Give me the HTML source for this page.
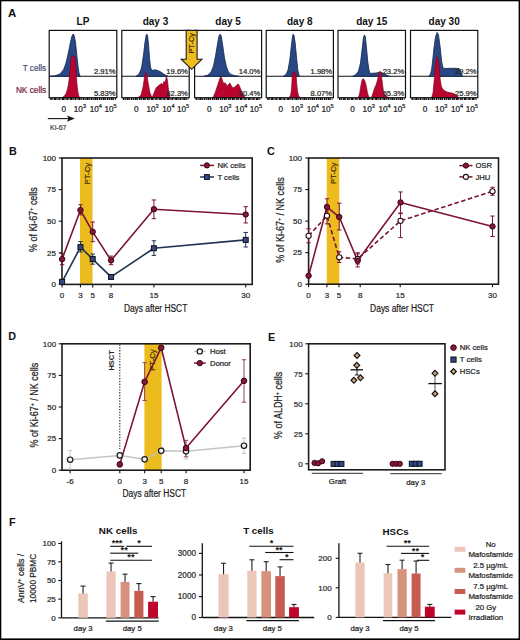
<!DOCTYPE html>
<html><head><meta charset="utf-8"><style>
html,body{margin:0;padding:0;background:#fff;}
body{width:520px;height:640px;overflow:hidden;}
svg{display:block;font-family:"Liberation Sans",sans-serif;}
</style></head><body>
<svg width="520" height="640" viewBox="0 0 520 640">
<rect x="0" y="0" width="520" height="640" fill="#fff"/>
<text x="8.00" y="17.30" font-size="11.5" text-anchor="start" font-weight="bold" fill="#111" >A</text>
<text x="46.2" y="70.5" font-size="8.9" text-anchor="end" fill="#454d72" textLength="23.5" lengthAdjust="spacingAndGlyphs" stroke="#454d72" stroke-width="0.22">T cells</text>
<text x="46.2" y="92.6" font-size="8.9" text-anchor="end" fill="#74233f" textLength="30.3" lengthAdjust="spacingAndGlyphs" stroke="#74233f" stroke-width="0.22">NK cells</text>
<text x="83.00" y="25.20" font-size="10" text-anchor="middle" font-weight="bold" fill="#111" >LP</text>
<line x1="49.20" y1="76.30" x2="116.80" y2="76.30" stroke="#111" stroke-width="1.1" />
<path d="M50.00,76.30 L55.00,75.80 L60.00,74.00 L63.60,69.50 L66.00,63.00 L68.50,52.00 L70.50,42.00 L72.00,36.00 L73.00,34.00 L74.00,35.00 L75.50,42.00 L76.80,55.00 L78.00,66.00 L79.00,73.00 L80.20,76.30 Z" fill="#274884" stroke="#16264a" stroke-width="0.8" stroke-linejoin="round" />
<path d="M61.50,97.70 L64.00,96.50 L66.00,93.50 L67.50,89.00 L68.60,83.00 L69.50,76.00 L70.30,66.00 L70.90,59.00 L71.60,56.20 L73.00,55.60 L74.40,56.20 L75.10,59.00 L75.80,66.00 L76.40,76.00 L77.00,84.00 L77.80,91.00 L78.80,96.00 L79.80,97.70 Z" fill="#b8042f" stroke="#7e0020" stroke-width="0.6" stroke-linejoin="round" />
<text x="115.50" y="73.90" font-size="7.6" text-anchor="end" fill="#262626"  stroke="#262626" stroke-width="0.22">2.91%</text>
<text x="115.50" y="95.90" font-size="7.6" text-anchor="end" fill="#262626"  stroke="#262626" stroke-width="0.22">5.83%</text>
<rect x="49.20" y="30.40" width="67.60" height="67.30" fill="none" stroke="#111" stroke-width="1.2" />
<line x1="50.20" y1="99.0" x2="115.80" y2="99.0" stroke="#111" stroke-width="2.0" stroke-dasharray="1.6 0.5 0.9 0.7 2.2 0.4 1.0 0.8"/>
<text x="63.80" y="111.60" font-size="8.2" text-anchor="middle" fill="#222"  stroke="#222" stroke-width="0.22">0</text>
<text x="73.80" y="111.6" font-size="8.2" fill="#222" stroke="#222" stroke-width="0.22">10<tspan font-size="5.6" dy="-3.3">3</tspan></text>
<text x="89.70" y="111.6" font-size="8.2" fill="#222" stroke="#222" stroke-width="0.22">10<tspan font-size="5.6" dy="-3.3">4</tspan></text>
<text x="104.40" y="111.6" font-size="8.2" fill="#222" stroke="#222" stroke-width="0.22">10<tspan font-size="5.6" dy="-3.3">5</tspan></text>
<text x="155.50" y="25.20" font-size="10" text-anchor="middle" font-weight="bold" fill="#111" >day 3</text>
<line x1="121.80" y1="76.30" x2="189.20" y2="76.30" stroke="#111" stroke-width="1.1" />
<path d="M136.00,76.30 L139.00,74.00 L141.50,68.00 L143.50,55.00 L145.00,42.00 L146.20,35.00 L146.70,34.20 L147.50,35.00 L148.50,44.00 L149.50,58.00 L150.50,67.00 L151.50,70.00 L153.00,70.30 L155.00,69.80 L157.00,70.30 L160.00,71.50 L163.00,73.50 L166.00,75.50 L168.00,76.30 Z" fill="#274884" stroke="#16264a" stroke-width="0.8" stroke-linejoin="round" />
<path d="M138.00,97.70 L141.00,95.00 L143.00,87.00 L144.50,77.00 L145.60,72.30 L146.80,74.00 L148.20,83.00 L149.80,92.00 L151.20,96.00 L152.50,96.50 L154.00,93.00 L156.00,88.00 L158.00,86.00 L160.00,84.50 L161.50,83.40 L162.50,85.00 L164.00,81.30 L165.00,83.00 L166.40,76.20 L167.50,80.00 L168.50,90.00 L169.90,97.70 Z" fill="#b8042f" stroke="#7e0020" stroke-width="0.6" stroke-linejoin="round" />
<text x="187.90" y="73.90" font-size="7.6" text-anchor="end" fill="#262626"  stroke="#262626" stroke-width="0.22">19.6%</text>
<text x="187.90" y="95.90" font-size="7.6" text-anchor="end" fill="#262626"  stroke="#262626" stroke-width="0.22">62.3%</text>
<rect x="121.80" y="30.40" width="67.40" height="67.30" fill="none" stroke="#111" stroke-width="1.2" />
<line x1="122.80" y1="99.0" x2="188.20" y2="99.0" stroke="#111" stroke-width="2.0" stroke-dasharray="1.6 0.5 0.9 0.7 2.2 0.4 1.0 0.8"/>
<text x="136.40" y="111.60" font-size="8.2" text-anchor="middle" fill="#222"  stroke="#222" stroke-width="0.22">0</text>
<text x="146.40" y="111.6" font-size="8.2" fill="#222" stroke="#222" stroke-width="0.22">10<tspan font-size="5.6" dy="-3.3">3</tspan></text>
<text x="162.30" y="111.6" font-size="8.2" fill="#222" stroke="#222" stroke-width="0.22">10<tspan font-size="5.6" dy="-3.3">4</tspan></text>
<text x="177.00" y="111.6" font-size="8.2" fill="#222" stroke="#222" stroke-width="0.22">10<tspan font-size="5.6" dy="-3.3">5</tspan></text>
<text x="228.10" y="25.20" font-size="10" text-anchor="middle" font-weight="bold" fill="#111" >day 5</text>
<line x1="194.60" y1="76.30" x2="261.60" y2="76.30" stroke="#111" stroke-width="1.1" />
<path d="M203.80,76.30 L208.00,75.00 L211.00,72.00 L213.50,66.00 L215.50,56.00 L217.50,44.00 L219.00,36.00 L220.10,34.20 L221.20,36.00 L222.80,46.00 L224.50,58.00 L226.50,67.00 L228.50,72.00 L231.00,74.50 L235.00,75.70 L239.00,76.30 Z" fill="#274884" stroke="#16264a" stroke-width="0.8" stroke-linejoin="round" />
<path d="M212.80,97.70 L215.00,93.00 L217.00,87.00 L219.00,81.00 L220.00,78.00 L221.00,76.50 L222.00,79.00 L223.00,82.00 L224.00,83.40 L225.20,82.70 L226.50,85.00 L227.50,86.00 L228.80,84.00 L230.00,83.10 L231.50,86.00 L233.00,88.00 L234.50,87.00 L236.00,86.00 L237.30,84.50 L238.40,84.00 L239.50,86.00 L241.00,90.00 L243.00,94.00 L245.30,97.70 Z" fill="#b8042f" stroke="#7e0020" stroke-width="0.6" stroke-linejoin="round" />
<text x="260.30" y="73.90" font-size="7.6" text-anchor="end" fill="#262626"  stroke="#262626" stroke-width="0.22">14.0%</text>
<text x="260.30" y="95.90" font-size="7.6" text-anchor="end" fill="#262626"  stroke="#262626" stroke-width="0.22">60.4%</text>
<rect x="194.60" y="30.40" width="67.00" height="67.30" fill="none" stroke="#111" stroke-width="1.2" />
<line x1="195.60" y1="99.0" x2="260.60" y2="99.0" stroke="#111" stroke-width="2.0" stroke-dasharray="1.6 0.5 0.9 0.7 2.2 0.4 1.0 0.8"/>
<text x="209.20" y="111.60" font-size="8.2" text-anchor="middle" fill="#222"  stroke="#222" stroke-width="0.22">0</text>
<text x="219.20" y="111.6" font-size="8.2" fill="#222" stroke="#222" stroke-width="0.22">10<tspan font-size="5.6" dy="-3.3">3</tspan></text>
<text x="235.10" y="111.6" font-size="8.2" fill="#222" stroke="#222" stroke-width="0.22">10<tspan font-size="5.6" dy="-3.3">4</tspan></text>
<text x="249.80" y="111.6" font-size="8.2" fill="#222" stroke="#222" stroke-width="0.22">10<tspan font-size="5.6" dy="-3.3">5</tspan></text>
<text x="299.80" y="25.20" font-size="10" text-anchor="middle" font-weight="bold" fill="#111" >day 8</text>
<line x1="266.20" y1="76.30" x2="333.40" y2="76.30" stroke="#111" stroke-width="1.1" />
<path d="M283.40,76.30 L286.00,74.50 L288.00,70.00 L289.80,60.00 L291.20,47.00 L292.40,37.00 L293.10,34.20 L294.00,35.50 L295.20,43.00 L296.50,57.00 L297.80,70.00 L299.30,76.30 Z" fill="#274884" stroke="#16264a" stroke-width="0.8" stroke-linejoin="round" />
<path d="M288.70,97.70 L290.30,96.00 L291.20,92.00 L291.80,84.00 L292.20,76.00 L292.80,72.50 L294.00,71.80 L295.30,72.50 L296.20,76.00 L296.80,84.00 L297.50,91.00 L298.50,95.50 L300.00,97.70 Z" fill="#b8042f" stroke="#7e0020" stroke-width="0.6" stroke-linejoin="round" />
<text x="332.10" y="73.90" font-size="7.6" text-anchor="end" fill="#262626"  stroke="#262626" stroke-width="0.22">1.98%</text>
<text x="332.10" y="95.90" font-size="7.6" text-anchor="end" fill="#262626"  stroke="#262626" stroke-width="0.22">8.07%</text>
<rect x="266.20" y="30.40" width="67.20" height="67.30" fill="none" stroke="#111" stroke-width="1.2" />
<line x1="267.20" y1="99.0" x2="332.40" y2="99.0" stroke="#111" stroke-width="2.0" stroke-dasharray="1.6 0.5 0.9 0.7 2.2 0.4 1.0 0.8"/>
<text x="280.80" y="111.60" font-size="8.2" text-anchor="middle" fill="#222"  stroke="#222" stroke-width="0.22">0</text>
<text x="290.80" y="111.6" font-size="8.2" fill="#222" stroke="#222" stroke-width="0.22">10<tspan font-size="5.6" dy="-3.3">3</tspan></text>
<text x="306.70" y="111.6" font-size="8.2" fill="#222" stroke="#222" stroke-width="0.22">10<tspan font-size="5.6" dy="-3.3">4</tspan></text>
<text x="321.40" y="111.6" font-size="8.2" fill="#222" stroke="#222" stroke-width="0.22">10<tspan font-size="5.6" dy="-3.3">5</tspan></text>
<text x="371.75" y="25.20" font-size="10" text-anchor="middle" font-weight="bold" fill="#111" >day 15</text>
<line x1="338.00" y1="76.30" x2="405.50" y2="76.30" stroke="#111" stroke-width="1.1" />
<path d="M352.60,76.30 L356.00,74.50 L358.50,71.00 L360.50,63.00 L362.00,50.00 L363.40,38.00 L364.40,34.90 L365.40,37.00 L366.50,48.00 L367.80,62.00 L369.00,70.00 L370.00,73.40 L373.00,73.20 L376.00,73.00 L379.00,72.40 L381.70,72.60 L384.00,73.80 L386.50,75.00 L389.30,76.30 Z" fill="#274884" stroke="#16264a" stroke-width="0.8" stroke-linejoin="round" />
<path d="M358.20,97.70 L359.50,94.00 L360.80,86.00 L362.00,80.00 L363.00,78.60 L364.50,80.00 L365.50,83.00 L366.50,87.00 L367.50,93.00 L369.20,97.70 L371.30,97.70 L373.00,93.00 L374.50,88.00 L376.00,85.00 L377.50,80.00 L378.80,74.00 L380.00,71.00 L381.00,73.00 L382.00,80.00 L383.00,88.00 L383.80,93.00 L386.00,96.00 L389.00,97.70 Z" fill="#b8042f" stroke="#7e0020" stroke-width="0.6" stroke-linejoin="round" />
<text x="404.20" y="73.90" font-size="7.6" text-anchor="end" fill="#262626"  stroke="#262626" stroke-width="0.22">23.2%</text>
<text x="404.20" y="95.90" font-size="7.6" text-anchor="end" fill="#262626"  stroke="#262626" stroke-width="0.22">55.3%</text>
<rect x="338.00" y="30.40" width="67.50" height="67.30" fill="none" stroke="#111" stroke-width="1.2" />
<line x1="339.00" y1="99.0" x2="404.50" y2="99.0" stroke="#111" stroke-width="2.0" stroke-dasharray="1.6 0.5 0.9 0.7 2.2 0.4 1.0 0.8"/>
<text x="352.60" y="111.60" font-size="8.2" text-anchor="middle" fill="#222"  stroke="#222" stroke-width="0.22">0</text>
<text x="362.60" y="111.6" font-size="8.2" fill="#222" stroke="#222" stroke-width="0.22">10<tspan font-size="5.6" dy="-3.3">3</tspan></text>
<text x="378.50" y="111.6" font-size="8.2" fill="#222" stroke="#222" stroke-width="0.22">10<tspan font-size="5.6" dy="-3.3">4</tspan></text>
<text x="393.20" y="111.6" font-size="8.2" fill="#222" stroke="#222" stroke-width="0.22">10<tspan font-size="5.6" dy="-3.3">5</tspan></text>
<text x="444.15" y="25.20" font-size="10" text-anchor="middle" font-weight="bold" fill="#111" >day 30</text>
<line x1="410.50" y1="76.30" x2="477.80" y2="76.30" stroke="#111" stroke-width="1.1" />
<path d="M428.80,76.30 L430.50,74.00 L431.50,70.00 L432.50,62.00 L434.00,48.00 L435.50,37.00 L437.10,32.40 L438.50,35.00 L440.00,46.00 L441.50,60.00 L442.50,66.00 L443.30,68.20 L446.00,68.50 L450.00,68.30 L455.00,68.30 L459.20,68.60 L460.50,71.00 L461.50,74.00 L462.70,76.30 Z" fill="#274884" stroke="#16264a" stroke-width="0.8" stroke-linejoin="round" />
<path d="M431.50,97.70 L433.00,93.00 L434.20,80.00 L435.20,66.00 L436.30,58.00 L437.40,56.40 L438.40,59.00 L439.20,68.00 L440.20,79.00 L441.30,86.00 L442.60,89.00 L445.00,91.00 L448.00,92.30 L452.00,93.00 L455.00,94.00 L457.00,96.00 L459.00,97.70 Z" fill="#b8042f" stroke="#7e0020" stroke-width="0.6" stroke-linejoin="round" />
<text x="476.50" y="73.90" font-size="7.6" text-anchor="end" fill="#262626"  stroke="#262626" stroke-width="0.22">29.2%</text>
<text x="476.50" y="95.90" font-size="7.6" text-anchor="end" fill="#262626"  stroke="#262626" stroke-width="0.22">25.9%</text>
<rect x="410.50" y="30.40" width="67.30" height="67.30" fill="none" stroke="#111" stroke-width="1.2" />
<line x1="411.50" y1="99.0" x2="476.80" y2="99.0" stroke="#111" stroke-width="2.0" stroke-dasharray="1.6 0.5 0.9 0.7 2.2 0.4 1.0 0.8"/>
<text x="425.10" y="111.60" font-size="8.2" text-anchor="middle" fill="#222"  stroke="#222" stroke-width="0.22">0</text>
<text x="435.10" y="111.6" font-size="8.2" fill="#222" stroke="#222" stroke-width="0.22">10<tspan font-size="5.6" dy="-3.3">3</tspan></text>
<text x="451.00" y="111.6" font-size="8.2" fill="#222" stroke="#222" stroke-width="0.22">10<tspan font-size="5.6" dy="-3.3">4</tspan></text>
<text x="465.70" y="111.6" font-size="8.2" fill="#222" stroke="#222" stroke-width="0.22">10<tspan font-size="5.6" dy="-3.3">5</tspan></text>
<line x1="47.80" y1="118.60" x2="70.00" y2="118.60" stroke="#111" stroke-width="1.1" />
<path d="M74.8,118.6 L66.9,115.4 L68.6,118.6 L66.9,121.8 Z" fill="#111"/>
<text x="50.1" y="130.1" font-size="7.6" fill="#444" textLength="16.4" lengthAdjust="spacingAndGlyphs" stroke="#444" stroke-width="0.22">Ki-67</text>
<path d="M186.2,30.4 L197.1,30.4 L197.1,59.2 L201.9,59.2 L191.6,69.3 L181.2,59.2 L186.2,59.2 Z" fill="#f0bd1e" stroke="#1a1a1a" stroke-width="1.1" stroke-linejoin="miter"/>
<text transform="translate(193.9,53.6) rotate(-90)" font-size="7.5" fill="#3a2a00" textLength="20.6" lengthAdjust="spacingAndGlyphs" stroke="#3a2a00" stroke-width="0.22">PT-Cy</text>
<text x="9.00" y="154.60" font-size="10.8" text-anchor="start" font-weight="bold" fill="#111" >B</text>
<rect x="80.00" y="158.00" width="12.50" height="126.40" fill="#ecbb1e" stroke="none" stroke-width="1" />
<text transform="translate(89.5,184.4) rotate(-90)" font-size="7.8" fill="#3a2a00" textLength="21.5" lengthAdjust="spacingAndGlyphs" stroke="#3a2a00" stroke-width="0.22">PT-Cy</text>
<rect x="62.00" y="158.00" width="190.20" height="126.40" fill="none" stroke="#1c1c1c" stroke-width="1.6" />
<line x1="58.70" y1="158.00" x2="62.00" y2="158.00" stroke="#111" stroke-width="1.1" />
<text x="56.00" y="160.80" font-size="8" text-anchor="end" fill="#2a2a2a"  stroke="#2a2a2a" stroke-width="0.22">100</text>
<line x1="58.70" y1="189.60" x2="62.00" y2="189.60" stroke="#111" stroke-width="1.1" />
<text x="56.00" y="192.40" font-size="8" text-anchor="end" fill="#2a2a2a"  stroke="#2a2a2a" stroke-width="0.22">75</text>
<line x1="58.70" y1="221.20" x2="62.00" y2="221.20" stroke="#111" stroke-width="1.1" />
<text x="56.00" y="224.00" font-size="8" text-anchor="end" fill="#2a2a2a"  stroke="#2a2a2a" stroke-width="0.22">50</text>
<line x1="58.70" y1="252.80" x2="62.00" y2="252.80" stroke="#111" stroke-width="1.1" />
<text x="56.00" y="255.60" font-size="8" text-anchor="end" fill="#2a2a2a"  stroke="#2a2a2a" stroke-width="0.22">25</text>
<line x1="58.70" y1="284.40" x2="62.00" y2="284.40" stroke="#111" stroke-width="1.1" />
<text x="56.00" y="287.20" font-size="8" text-anchor="end" fill="#2a2a2a"  stroke="#2a2a2a" stroke-width="0.22">0</text>
<line x1="62.10" y1="284.40" x2="62.10" y2="287.40" stroke="#111" stroke-width="1.1" />
<text x="62.10" y="298.00" font-size="8" text-anchor="middle" fill="#2a2a2a"  stroke="#2a2a2a" stroke-width="0.22">0</text>
<line x1="80.46" y1="284.40" x2="80.46" y2="287.40" stroke="#111" stroke-width="1.1" />
<text x="80.46" y="298.00" font-size="8" text-anchor="middle" fill="#2a2a2a"  stroke="#2a2a2a" stroke-width="0.22">3</text>
<line x1="92.70" y1="284.40" x2="92.70" y2="287.40" stroke="#111" stroke-width="1.1" />
<text x="92.70" y="298.00" font-size="8" text-anchor="middle" fill="#2a2a2a"  stroke="#2a2a2a" stroke-width="0.22">5</text>
<line x1="111.06" y1="284.40" x2="111.06" y2="287.40" stroke="#111" stroke-width="1.1" />
<text x="111.06" y="298.00" font-size="8" text-anchor="middle" fill="#2a2a2a"  stroke="#2a2a2a" stroke-width="0.22">8</text>
<line x1="153.90" y1="284.40" x2="153.90" y2="287.40" stroke="#111" stroke-width="1.1" />
<text x="153.90" y="298.00" font-size="8" text-anchor="middle" fill="#2a2a2a"  stroke="#2a2a2a" stroke-width="0.22">15</text>
<line x1="245.70" y1="284.40" x2="245.70" y2="287.40" stroke="#111" stroke-width="1.1" />
<text x="245.70" y="298.00" font-size="8" text-anchor="middle" fill="#2a2a2a"  stroke="#2a2a2a" stroke-width="0.22">30</text>
<text transform="translate(36.60,219.60) rotate(-90)" font-size="10" text-anchor="middle" fill="#222" textLength="64.8" lengthAdjust="spacingAndGlyphs" stroke="#222" stroke-width="0.22">% of Ki-67<tspan font-size="6" dy="-3.5">+</tspan><tspan dy="3.5"> </tspan>cells</text>
<text x="123.90" y="311.50" font-size="10" fill="#222" textLength="63.40" lengthAdjust="spacingAndGlyphs" stroke="#222" stroke-width="0.22">Days after HSCT</text>
<line x1="62.10" y1="264.68" x2="62.10" y2="253.56" stroke="#7c1434" stroke-width="1.0" />
<line x1="59.90" y1="253.56" x2="64.30" y2="253.56" stroke="#7c1434" stroke-width="1.0" />
<line x1="59.90" y1="264.68" x2="64.30" y2="264.68" stroke="#7c1434" stroke-width="1.0" />
<line x1="80.46" y1="214.88" x2="80.46" y2="204.77" stroke="#7c1434" stroke-width="1.0" />
<line x1="78.26" y1="204.77" x2="82.66" y2="204.77" stroke="#7c1434" stroke-width="1.0" />
<line x1="78.26" y1="214.88" x2="82.66" y2="214.88" stroke="#7c1434" stroke-width="1.0" />
<line x1="92.70" y1="241.68" x2="92.70" y2="221.96" stroke="#7c1434" stroke-width="1.0" />
<line x1="90.50" y1="221.96" x2="94.90" y2="221.96" stroke="#7c1434" stroke-width="1.0" />
<line x1="90.50" y1="241.68" x2="94.90" y2="241.68" stroke="#7c1434" stroke-width="1.0" />
<line x1="111.06" y1="264.68" x2="111.06" y2="256.09" stroke="#7c1434" stroke-width="1.0" />
<line x1="108.86" y1="256.09" x2="113.26" y2="256.09" stroke="#7c1434" stroke-width="1.0" />
<line x1="108.86" y1="264.68" x2="113.26" y2="264.68" stroke="#7c1434" stroke-width="1.0" />
<line x1="153.90" y1="218.67" x2="153.90" y2="199.96" stroke="#7c1434" stroke-width="1.0" />
<line x1="151.70" y1="199.96" x2="156.10" y2="199.96" stroke="#7c1434" stroke-width="1.0" />
<line x1="151.70" y1="218.67" x2="156.10" y2="218.67" stroke="#7c1434" stroke-width="1.0" />
<line x1="245.70" y1="222.97" x2="245.70" y2="206.66" stroke="#7c1434" stroke-width="1.0" />
<line x1="243.50" y1="206.66" x2="247.90" y2="206.66" stroke="#7c1434" stroke-width="1.0" />
<line x1="243.50" y1="222.97" x2="247.90" y2="222.97" stroke="#7c1434" stroke-width="1.0" />
<line x1="62.10" y1="283.14" x2="62.10" y2="280.61" stroke="#203452" stroke-width="1.0" />
<line x1="59.90" y1="280.61" x2="64.30" y2="280.61" stroke="#203452" stroke-width="1.0" />
<line x1="59.90" y1="283.14" x2="64.30" y2="283.14" stroke="#203452" stroke-width="1.0" />
<line x1="80.46" y1="251.92" x2="80.46" y2="241.68" stroke="#203452" stroke-width="1.0" />
<line x1="78.26" y1="241.68" x2="82.66" y2="241.68" stroke="#203452" stroke-width="1.0" />
<line x1="78.26" y1="251.92" x2="82.66" y2="251.92" stroke="#203452" stroke-width="1.0" />
<line x1="92.70" y1="264.18" x2="92.70" y2="254.06" stroke="#203452" stroke-width="1.0" />
<line x1="90.50" y1="254.06" x2="94.90" y2="254.06" stroke="#203452" stroke-width="1.0" />
<line x1="90.50" y1="264.18" x2="94.90" y2="264.18" stroke="#203452" stroke-width="1.0" />
<line x1="111.06" y1="278.71" x2="111.06" y2="275.17" stroke="#203452" stroke-width="1.0" />
<line x1="108.86" y1="275.17" x2="113.26" y2="275.17" stroke="#203452" stroke-width="1.0" />
<line x1="108.86" y1="278.71" x2="113.26" y2="278.71" stroke="#203452" stroke-width="1.0" />
<line x1="153.90" y1="255.45" x2="153.90" y2="240.79" stroke="#203452" stroke-width="1.0" />
<line x1="151.70" y1="240.79" x2="156.10" y2="240.79" stroke="#203452" stroke-width="1.0" />
<line x1="151.70" y1="255.45" x2="156.10" y2="255.45" stroke="#203452" stroke-width="1.0" />
<line x1="245.70" y1="246.99" x2="245.70" y2="232.45" stroke="#203452" stroke-width="1.0" />
<line x1="243.50" y1="232.45" x2="247.90" y2="232.45" stroke="#203452" stroke-width="1.0" />
<line x1="243.50" y1="246.99" x2="247.90" y2="246.99" stroke="#203452" stroke-width="1.0" />
<path d="M62.10,281.87 L80.46,247.11 L92.70,259.12 L111.06,276.94 L153.90,248.25 L245.70,239.91" fill="none" stroke="#203452" stroke-width="1.6" stroke-linejoin="round"/>
<path d="M62.10,259.12 L80.46,210.08 L92.70,231.82 L111.06,260.38 L153.90,209.19 L245.70,214.50" fill="none" stroke="#7c1434" stroke-width="1.6" stroke-linejoin="round"/>
<rect x="59.60" y="279.37" width="5.00" height="5.00" fill="#36497c" stroke="#0c1020" stroke-width="1.0" />
<rect x="77.96" y="244.61" width="5.00" height="5.00" fill="#36497c" stroke="#0c1020" stroke-width="1.0" />
<rect x="90.20" y="256.62" width="5.00" height="5.00" fill="#36497c" stroke="#0c1020" stroke-width="1.0" />
<rect x="108.56" y="274.44" width="5.00" height="5.00" fill="#36497c" stroke="#0c1020" stroke-width="1.0" />
<rect x="151.40" y="245.75" width="5.00" height="5.00" fill="#36497c" stroke="#0c1020" stroke-width="1.0" />
<rect x="243.20" y="237.41" width="5.00" height="5.00" fill="#36497c" stroke="#0c1020" stroke-width="1.0" />
<circle cx="62.10" cy="259.12" r="2.7" fill="#86163a" stroke="#360510" stroke-width="1.0"/>
<circle cx="80.46" cy="210.08" r="2.7" fill="#86163a" stroke="#360510" stroke-width="1.0"/>
<circle cx="92.70" cy="231.82" r="2.7" fill="#86163a" stroke="#360510" stroke-width="1.0"/>
<circle cx="111.06" cy="260.38" r="2.7" fill="#86163a" stroke="#360510" stroke-width="1.0"/>
<circle cx="153.90" cy="209.19" r="2.7" fill="#86163a" stroke="#360510" stroke-width="1.0"/>
<circle cx="245.70" cy="214.50" r="2.7" fill="#86163a" stroke="#360510" stroke-width="1.0"/>
<line x1="200.10" y1="165.40" x2="214.00" y2="165.40" stroke="#7c1434" stroke-width="1.5" />
<circle cx="206.90" cy="165.40" r="2.6" fill="#86163a" stroke="#360510" stroke-width="1.0"/>
<text x="217.40" y="168.20" font-size="7.7" text-anchor="start" fill="#222"  stroke="#222" stroke-width="0.22">NK cells</text>
<line x1="200.10" y1="177.00" x2="214.00" y2="177.00" stroke="#203452" stroke-width="1.5" />
<rect x="204.50" y="174.60" width="4.80" height="4.80" fill="#36497c" stroke="#0c1020" stroke-width="1.0" />
<text x="217.40" y="179.80" font-size="7.7" text-anchor="start" fill="#222"  stroke="#222" stroke-width="0.22">T cells</text>
<text x="266.90" y="154.60" font-size="10.8" text-anchor="start" font-weight="bold" fill="#111" >C</text>
<rect x="326.70" y="158.00" width="12.60" height="126.20" fill="#ecbb1e" stroke="none" stroke-width="1" />
<text transform="translate(335.8,184.0) rotate(-90)" font-size="7.8" fill="#3a2a00" textLength="21.5" lengthAdjust="spacingAndGlyphs" stroke="#3a2a00" stroke-width="0.22">PT-Cy</text>
<rect x="308.60" y="158.00" width="189.90" height="126.20" fill="none" stroke="#1c1c1c" stroke-width="1.6" />
<line x1="305.30" y1="158.00" x2="308.60" y2="158.00" stroke="#111" stroke-width="1.1" />
<text x="302.00" y="160.80" font-size="8" text-anchor="end" fill="#2a2a2a"  stroke="#2a2a2a" stroke-width="0.22">100</text>
<line x1="305.30" y1="189.55" x2="308.60" y2="189.55" stroke="#111" stroke-width="1.1" />
<text x="302.00" y="192.35" font-size="8" text-anchor="end" fill="#2a2a2a"  stroke="#2a2a2a" stroke-width="0.22">75</text>
<line x1="305.30" y1="221.10" x2="308.60" y2="221.10" stroke="#111" stroke-width="1.1" />
<text x="302.00" y="223.90" font-size="8" text-anchor="end" fill="#2a2a2a"  stroke="#2a2a2a" stroke-width="0.22">50</text>
<line x1="305.30" y1="252.65" x2="308.60" y2="252.65" stroke="#111" stroke-width="1.1" />
<text x="302.00" y="255.45" font-size="8" text-anchor="end" fill="#2a2a2a"  stroke="#2a2a2a" stroke-width="0.22">25</text>
<line x1="305.30" y1="284.20" x2="308.60" y2="284.20" stroke="#111" stroke-width="1.1" />
<text x="302.00" y="287.00" font-size="8" text-anchor="end" fill="#2a2a2a"  stroke="#2a2a2a" stroke-width="0.22">0</text>
<line x1="308.50" y1="284.20" x2="308.50" y2="287.20" stroke="#111" stroke-width="1.1" />
<text x="308.50" y="298.00" font-size="8" text-anchor="middle" fill="#2a2a2a"  stroke="#2a2a2a" stroke-width="0.22">0</text>
<line x1="326.90" y1="284.20" x2="326.90" y2="287.20" stroke="#111" stroke-width="1.1" />
<text x="326.90" y="298.00" font-size="8" text-anchor="middle" fill="#2a2a2a"  stroke="#2a2a2a" stroke-width="0.22">3</text>
<line x1="339.00" y1="284.20" x2="339.00" y2="287.20" stroke="#111" stroke-width="1.1" />
<text x="339.00" y="298.00" font-size="8" text-anchor="middle" fill="#2a2a2a"  stroke="#2a2a2a" stroke-width="0.22">5</text>
<line x1="360.20" y1="284.20" x2="360.20" y2="287.20" stroke="#111" stroke-width="1.1" />
<text x="360.20" y="298.00" font-size="8" text-anchor="middle" fill="#2a2a2a"  stroke="#2a2a2a" stroke-width="0.22">8</text>
<line x1="400.20" y1="284.20" x2="400.20" y2="287.20" stroke="#111" stroke-width="1.1" />
<text x="400.20" y="298.00" font-size="8" text-anchor="middle" fill="#2a2a2a"  stroke="#2a2a2a" stroke-width="0.22">15</text>
<line x1="492.50" y1="284.20" x2="492.50" y2="287.20" stroke="#111" stroke-width="1.1" />
<text x="492.50" y="298.00" font-size="8" text-anchor="middle" fill="#2a2a2a"  stroke="#2a2a2a" stroke-width="0.22">30</text>
<text transform="translate(284.30,220.00) rotate(-90)" font-size="10" text-anchor="middle" fill="#222" textLength="85.3" lengthAdjust="spacingAndGlyphs" stroke="#222" stroke-width="0.22">% of Ki-67<tspan font-size="6" dy="-3.5">+</tspan><tspan dy="3.5"> </tspan>/ NK cells</text>
<text x="370.10" y="311.50" font-size="10" fill="#222" textLength="63.80" lengthAdjust="spacingAndGlyphs" stroke="#222" stroke-width="0.22">Days after HSCT</text>
<line x1="308.60" y1="242.81" x2="308.60" y2="228.80" stroke="#7c1434" stroke-width="1.0" />
<line x1="306.40" y1="228.80" x2="310.80" y2="228.80" stroke="#7c1434" stroke-width="1.0" />
<line x1="306.40" y1="242.81" x2="310.80" y2="242.81" stroke="#7c1434" stroke-width="1.0" />
<line x1="326.99" y1="223.88" x2="326.99" y2="211.00" stroke="#7c1434" stroke-width="1.0" />
<line x1="324.79" y1="211.00" x2="329.19" y2="211.00" stroke="#7c1434" stroke-width="1.0" />
<line x1="324.79" y1="223.88" x2="329.19" y2="223.88" stroke="#7c1434" stroke-width="1.0" />
<line x1="339.25" y1="262.49" x2="339.25" y2="251.77" stroke="#7c1434" stroke-width="1.0" />
<line x1="337.05" y1="251.77" x2="341.45" y2="251.77" stroke="#7c1434" stroke-width="1.0" />
<line x1="337.05" y1="262.49" x2="341.45" y2="262.49" stroke="#7c1434" stroke-width="1.0" />
<line x1="357.64" y1="264.01" x2="357.64" y2="253.91" stroke="#7c1434" stroke-width="1.0" />
<line x1="355.44" y1="253.91" x2="359.84" y2="253.91" stroke="#7c1434" stroke-width="1.0" />
<line x1="355.44" y1="264.01" x2="359.84" y2="264.01" stroke="#7c1434" stroke-width="1.0" />
<line x1="400.55" y1="237.63" x2="400.55" y2="213.02" stroke="#7c1434" stroke-width="1.0" />
<line x1="398.35" y1="213.02" x2="402.75" y2="213.02" stroke="#7c1434" stroke-width="1.0" />
<line x1="398.35" y1="237.63" x2="402.75" y2="237.63" stroke="#7c1434" stroke-width="1.0" />
<line x1="492.50" y1="195.23" x2="492.50" y2="187.28" stroke="#7c1434" stroke-width="1.0" />
<line x1="490.30" y1="187.28" x2="494.70" y2="187.28" stroke="#7c1434" stroke-width="1.0" />
<line x1="490.30" y1="195.23" x2="494.70" y2="195.23" stroke="#7c1434" stroke-width="1.0" />
<line x1="326.99" y1="213.53" x2="326.99" y2="198.76" stroke="#7c1434" stroke-width="1.0" />
<line x1="324.79" y1="198.76" x2="329.19" y2="198.76" stroke="#7c1434" stroke-width="1.0" />
<line x1="324.79" y1="213.53" x2="329.19" y2="213.53" stroke="#7c1434" stroke-width="1.0" />
<line x1="339.25" y1="229.93" x2="339.25" y2="203.18" stroke="#7c1434" stroke-width="1.0" />
<line x1="337.05" y1="203.18" x2="341.45" y2="203.18" stroke="#7c1434" stroke-width="1.0" />
<line x1="337.05" y1="229.93" x2="341.45" y2="229.93" stroke="#7c1434" stroke-width="1.0" />
<line x1="357.64" y1="266.91" x2="357.64" y2="252.78" stroke="#7c1434" stroke-width="1.0" />
<line x1="355.44" y1="252.78" x2="359.84" y2="252.78" stroke="#7c1434" stroke-width="1.0" />
<line x1="355.44" y1="266.91" x2="359.84" y2="266.91" stroke="#7c1434" stroke-width="1.0" />
<line x1="400.55" y1="213.65" x2="400.55" y2="191.95" stroke="#7c1434" stroke-width="1.0" />
<line x1="398.35" y1="191.95" x2="402.75" y2="191.95" stroke="#7c1434" stroke-width="1.0" />
<line x1="398.35" y1="213.65" x2="402.75" y2="213.65" stroke="#7c1434" stroke-width="1.0" />
<line x1="492.50" y1="236.50" x2="492.50" y2="216.05" stroke="#7c1434" stroke-width="1.0" />
<line x1="490.30" y1="216.05" x2="494.70" y2="216.05" stroke="#7c1434" stroke-width="1.0" />
<line x1="490.30" y1="236.50" x2="494.70" y2="236.50" stroke="#7c1434" stroke-width="1.0" />
<path d="M308.60,235.87 L326.99,215.80 L339.25,257.32 L357.64,258.96 L400.55,220.85 L492.50,191.32" fill="none" stroke="#7c1434" stroke-width="1.6" stroke-linejoin="round" stroke-dasharray="4.5 2.5"/>
<path d="M308.60,275.74 L326.99,206.97 L339.25,217.06 L357.64,260.73 L400.55,202.42 L492.50,226.40" fill="none" stroke="#7c1434" stroke-width="1.6" stroke-linejoin="round"/>
<circle cx="308.60" cy="235.87" r="2.6" fill="#fff" stroke="#2a0a12" stroke-width="1.1"/>
<circle cx="326.99" cy="215.80" r="2.6" fill="#fff" stroke="#2a0a12" stroke-width="1.1"/>
<circle cx="339.25" cy="257.32" r="2.6" fill="#fff" stroke="#2a0a12" stroke-width="1.1"/>
<circle cx="357.64" cy="258.96" r="2.6" fill="#fff" stroke="#2a0a12" stroke-width="1.1"/>
<circle cx="400.55" cy="220.85" r="2.6" fill="#fff" stroke="#2a0a12" stroke-width="1.1"/>
<circle cx="492.50" cy="191.32" r="2.6" fill="#fff" stroke="#2a0a12" stroke-width="1.1"/>
<circle cx="308.60" cy="275.74" r="2.7" fill="#86163a" stroke="#360510" stroke-width="1.0"/>
<circle cx="326.99" cy="206.97" r="2.7" fill="#86163a" stroke="#360510" stroke-width="1.0"/>
<circle cx="339.25" cy="217.06" r="2.7" fill="#86163a" stroke="#360510" stroke-width="1.0"/>
<circle cx="357.64" cy="260.73" r="2.7" fill="#86163a" stroke="#360510" stroke-width="1.0"/>
<circle cx="400.55" cy="202.42" r="2.7" fill="#86163a" stroke="#360510" stroke-width="1.0"/>
<circle cx="492.50" cy="226.40" r="2.7" fill="#86163a" stroke="#360510" stroke-width="1.0"/>
<line x1="459.30" y1="165.60" x2="472.50" y2="165.60" stroke="#7c1434" stroke-width="1.5" />
<circle cx="465.90" cy="165.60" r="2.6" fill="#86163a" stroke="#360510" stroke-width="1.0"/>
<text x="475.40" y="168.40" font-size="7.7" text-anchor="start" fill="#222"  stroke="#222" stroke-width="0.22">OSR</text>
<line x1="459.30" y1="176.90" x2="472.50" y2="176.90" stroke="#7c1434" stroke-width="1.5" />
<circle cx="465.90" cy="176.90" r="2.5" fill="#fff" stroke="#2a0a12" stroke-width="1.1"/>
<text x="475.40" y="179.70" font-size="7.7" text-anchor="start" fill="#222"  stroke="#222" stroke-width="0.22">JHU</text>
<text x="8.30" y="340.40" font-size="10.8" text-anchor="start" font-weight="bold" fill="#111" >D</text>
<rect x="144.40" y="343.80" width="17.20" height="126.40" fill="#ecbb1e" stroke="none" stroke-width="1" />
<rect x="62.00" y="343.80" width="188.20" height="126.40" fill="none" stroke="#1c1c1c" stroke-width="1.6" />
<line x1="58.70" y1="343.80" x2="62.00" y2="343.80" stroke="#111" stroke-width="1.1" />
<text x="56.20" y="346.60" font-size="8" text-anchor="end" fill="#2a2a2a"  stroke="#2a2a2a" stroke-width="0.22">100</text>
<line x1="58.70" y1="375.40" x2="62.00" y2="375.40" stroke="#111" stroke-width="1.1" />
<text x="56.20" y="378.20" font-size="8" text-anchor="end" fill="#2a2a2a"  stroke="#2a2a2a" stroke-width="0.22">75</text>
<line x1="58.70" y1="407.00" x2="62.00" y2="407.00" stroke="#111" stroke-width="1.1" />
<text x="56.20" y="409.80" font-size="8" text-anchor="end" fill="#2a2a2a"  stroke="#2a2a2a" stroke-width="0.22">50</text>
<line x1="58.70" y1="438.60" x2="62.00" y2="438.60" stroke="#111" stroke-width="1.1" />
<text x="56.20" y="441.40" font-size="8" text-anchor="end" fill="#2a2a2a"  stroke="#2a2a2a" stroke-width="0.22">25</text>
<line x1="58.70" y1="470.20" x2="62.00" y2="470.20" stroke="#111" stroke-width="1.1" />
<text x="56.20" y="473.00" font-size="8" text-anchor="end" fill="#2a2a2a"  stroke="#2a2a2a" stroke-width="0.22">0</text>
<line x1="70.12" y1="470.20" x2="70.12" y2="473.20" stroke="#111" stroke-width="1.1" />
<text x="70.12" y="483.60" font-size="8" text-anchor="middle" fill="#2a2a2a"  stroke="#2a2a2a" stroke-width="0.22">-6</text>
<line x1="119.80" y1="470.20" x2="119.80" y2="473.20" stroke="#111" stroke-width="1.1" />
<text x="119.80" y="483.60" font-size="8" text-anchor="middle" fill="#2a2a2a"  stroke="#2a2a2a" stroke-width="0.22">0</text>
<line x1="144.64" y1="470.20" x2="144.64" y2="473.20" stroke="#111" stroke-width="1.1" />
<text x="144.64" y="483.60" font-size="8" text-anchor="middle" fill="#2a2a2a"  stroke="#2a2a2a" stroke-width="0.22">3</text>
<line x1="161.20" y1="470.20" x2="161.20" y2="473.20" stroke="#111" stroke-width="1.1" />
<text x="161.20" y="483.60" font-size="8" text-anchor="middle" fill="#2a2a2a"  stroke="#2a2a2a" stroke-width="0.22">5</text>
<line x1="186.04" y1="470.20" x2="186.04" y2="473.20" stroke="#111" stroke-width="1.1" />
<text x="186.04" y="483.60" font-size="8" text-anchor="middle" fill="#2a2a2a"  stroke="#2a2a2a" stroke-width="0.22">8</text>
<line x1="244.00" y1="470.20" x2="244.00" y2="473.20" stroke="#111" stroke-width="1.1" />
<text x="244.00" y="483.60" font-size="8" text-anchor="middle" fill="#2a2a2a"  stroke="#2a2a2a" stroke-width="0.22">15</text>
<text transform="translate(37.90,405.20) rotate(-90)" font-size="10" text-anchor="middle" fill="#222" textLength="84.7" lengthAdjust="spacingAndGlyphs" stroke="#222" stroke-width="0.22">% of Ki-67<tspan font-size="6" dy="-3.5">+</tspan><tspan dy="3.5"> </tspan>/ NK cells</text>
<text x="122.50" y="497.40" font-size="10" fill="#222" textLength="63.70" lengthAdjust="spacingAndGlyphs" stroke="#222" stroke-width="0.22">Days after HSCT</text>
<line x1="119.80" y1="344.50" x2="119.80" y2="449.00" stroke="#222" stroke-width="1.1" stroke-dasharray="1.3 1.5"/>
<text transform="translate(114.3,370.6) rotate(-90)" font-size="7.6" font-weight="bold" fill="#222" textLength="20.3" lengthAdjust="spacingAndGlyphs">HSCT</text>
<text transform="translate(155.0,370.8) rotate(-90)" font-size="7.8" fill="#3a2a00" textLength="21.5" lengthAdjust="spacingAndGlyphs" stroke="#3a2a00" stroke-width="0.22">PT-Cy</text>
<line x1="70.12" y1="468.94" x2="70.12" y2="450.48" stroke="#c8c8c8" stroke-width="1.0" />
<line x1="67.92" y1="450.48" x2="72.32" y2="450.48" stroke="#c8c8c8" stroke-width="1.0" />
<line x1="67.92" y1="468.94" x2="72.32" y2="468.94" stroke="#c8c8c8" stroke-width="1.0" />
<line x1="161.20" y1="450.86" x2="161.20" y2="447.45" stroke="#c8c8c8" stroke-width="1.0" />
<line x1="159.00" y1="447.45" x2="163.40" y2="447.45" stroke="#c8c8c8" stroke-width="1.0" />
<line x1="159.00" y1="450.86" x2="163.40" y2="450.86" stroke="#c8c8c8" stroke-width="1.0" />
<line x1="186.04" y1="458.95" x2="186.04" y2="448.71" stroke="#c8c8c8" stroke-width="1.0" />
<line x1="183.84" y1="448.71" x2="188.24" y2="448.71" stroke="#c8c8c8" stroke-width="1.0" />
<line x1="183.84" y1="458.95" x2="188.24" y2="458.95" stroke="#c8c8c8" stroke-width="1.0" />
<line x1="244.00" y1="453.39" x2="244.00" y2="437.97" stroke="#c8c8c8" stroke-width="1.0" />
<line x1="241.80" y1="437.97" x2="246.20" y2="437.97" stroke="#c8c8c8" stroke-width="1.0" />
<line x1="241.80" y1="453.39" x2="246.20" y2="453.39" stroke="#c8c8c8" stroke-width="1.0" />
<line x1="144.64" y1="400.43" x2="144.64" y2="362.63" stroke="#94405a" stroke-width="1.0" />
<line x1="142.44" y1="362.63" x2="146.84" y2="362.63" stroke="#94405a" stroke-width="1.0" />
<line x1="142.44" y1="400.43" x2="146.84" y2="400.43" stroke="#94405a" stroke-width="1.0" />
<line x1="186.04" y1="456.80" x2="186.04" y2="440.37" stroke="#94405a" stroke-width="1.0" />
<line x1="183.84" y1="440.37" x2="188.24" y2="440.37" stroke="#94405a" stroke-width="1.0" />
<line x1="183.84" y1="456.80" x2="188.24" y2="456.80" stroke="#94405a" stroke-width="1.0" />
<line x1="244.00" y1="402.20" x2="244.00" y2="359.73" stroke="#94405a" stroke-width="1.0" />
<line x1="241.80" y1="359.73" x2="246.20" y2="359.73" stroke="#94405a" stroke-width="1.0" />
<line x1="241.80" y1="402.20" x2="246.20" y2="402.20" stroke="#94405a" stroke-width="1.0" />
<path d="M70.12,459.71 L119.80,455.41 L144.64,459.33 L161.20,450.86 L186.04,451.37 L244.00,445.68" fill="none" stroke="#c4c4c4" stroke-width="1.5" stroke-linejoin="round"/>
<path d="M119.80,464.39 L144.64,381.85 L161.20,347.72 L186.04,448.08 L244.00,380.84" fill="none" stroke="#7c1434" stroke-width="1.6" stroke-linejoin="round"/>
<circle cx="70.12" cy="459.71" r="2.7" fill="#f2f2f2" stroke="#1a1a1a" stroke-width="1.2"/>
<circle cx="119.80" cy="455.41" r="2.7" fill="#f2f2f2" stroke="#1a1a1a" stroke-width="1.2"/>
<circle cx="144.64" cy="459.33" r="2.7" fill="#f2f2f2" stroke="#1a1a1a" stroke-width="1.2"/>
<circle cx="161.20" cy="450.86" r="2.7" fill="#f2f2f2" stroke="#1a1a1a" stroke-width="1.2"/>
<circle cx="186.04" cy="451.37" r="2.7" fill="#f2f2f2" stroke="#1a1a1a" stroke-width="1.2"/>
<circle cx="244.00" cy="445.68" r="2.7" fill="#f2f2f2" stroke="#1a1a1a" stroke-width="1.2"/>
<circle cx="119.80" cy="464.39" r="2.8" fill="#86163a" stroke="#360510" stroke-width="1.0"/>
<circle cx="144.64" cy="381.85" r="2.8" fill="#86163a" stroke="#360510" stroke-width="1.0"/>
<circle cx="161.20" cy="347.72" r="2.8" fill="#86163a" stroke="#360510" stroke-width="1.0"/>
<circle cx="186.04" cy="448.08" r="2.8" fill="#86163a" stroke="#360510" stroke-width="1.0"/>
<circle cx="244.00" cy="380.84" r="2.8" fill="#86163a" stroke="#360510" stroke-width="1.0"/>
<line x1="194.00" y1="351.40" x2="205.70" y2="351.40" stroke="#c4c4c4" stroke-width="1.5" />
<circle cx="199.80" cy="351.40" r="2.6" fill="#f2f2f2" stroke="#1a1a1a" stroke-width="1.2"/>
<text x="209.90" y="354.20" font-size="7.7" text-anchor="start" fill="#222"  stroke="#222" stroke-width="0.22">Host</text>
<line x1="194.00" y1="363.10" x2="205.70" y2="363.10" stroke="#7c1434" stroke-width="1.5" />
<circle cx="199.80" cy="363.10" r="2.7" fill="#86163a" stroke="#360510" stroke-width="1.0"/>
<text x="209.90" y="365.90" font-size="7.7" text-anchor="start" fill="#222"  stroke="#222" stroke-width="0.22">Donor</text>
<text x="268.10" y="340.60" font-size="10.8" text-anchor="start" font-weight="bold" fill="#111" >E</text>
<rect x="308.60" y="343.80" width="136.40" height="126.00" fill="none" stroke="#1c1c1c" stroke-width="1.6" />
<line x1="305.30" y1="343.80" x2="308.60" y2="343.80" stroke="#111" stroke-width="1.1" />
<text x="302.70" y="346.60" font-size="8" text-anchor="end" fill="#2a2a2a"  stroke="#2a2a2a" stroke-width="0.22">100</text>
<line x1="305.30" y1="373.80" x2="308.60" y2="373.80" stroke="#111" stroke-width="1.1" />
<text x="302.70" y="376.60" font-size="8" text-anchor="end" fill="#2a2a2a"  stroke="#2a2a2a" stroke-width="0.22">75</text>
<line x1="305.30" y1="403.80" x2="308.60" y2="403.80" stroke="#111" stroke-width="1.1" />
<text x="302.70" y="406.60" font-size="8" text-anchor="end" fill="#2a2a2a"  stroke="#2a2a2a" stroke-width="0.22">50</text>
<line x1="305.30" y1="433.80" x2="308.60" y2="433.80" stroke="#111" stroke-width="1.1" />
<text x="302.70" y="436.60" font-size="8" text-anchor="end" fill="#2a2a2a"  stroke="#2a2a2a" stroke-width="0.22">25</text>
<line x1="305.30" y1="463.80" x2="308.60" y2="463.80" stroke="#111" stroke-width="1.1" />
<text x="302.70" y="466.60" font-size="8" text-anchor="end" fill="#2a2a2a"  stroke="#2a2a2a" stroke-width="0.22">0</text>
<text transform="translate(282.40,405.30) rotate(-90)" font-size="10" text-anchor="middle" fill="#222" textLength="67.2" lengthAdjust="spacingAndGlyphs" stroke="#222" stroke-width="0.22">% of ALDH<tspan font-size="6" dy="-3.5">+</tspan><tspan dy="3.5"> </tspan>cells</text>
<line x1="311.80" y1="473.40" x2="363.00" y2="473.40" stroke="#555" stroke-width="1.3" />
<line x1="390.40" y1="473.60" x2="441.60" y2="473.60" stroke="#555" stroke-width="1.3" />
<text x="337.50" y="484.30" font-size="7.8" text-anchor="middle" fill="#222"  stroke="#222" stroke-width="0.22">Graft</text>
<text x="415.80" y="484.60" font-size="7.8" text-anchor="middle" fill="#222"  stroke="#222" stroke-width="0.22">day 3</text>
<circle cx="314.50" cy="462.90" r="2.6" fill="#86163a" stroke="#360510" stroke-width="1.0"/>
<circle cx="318.10" cy="463.30" r="2.6" fill="#86163a" stroke="#360510" stroke-width="1.0"/>
<circle cx="322.10" cy="461.30" r="2.6" fill="#86163a" stroke="#360510" stroke-width="1.0"/>
<rect x="331.10" y="461.40" width="5.00" height="5.00" fill="#36497c" stroke="#0c1020" stroke-width="1.0" />
<rect x="335.00" y="461.40" width="5.00" height="5.00" fill="#36497c" stroke="#0c1020" stroke-width="1.0" />
<rect x="338.90" y="461.40" width="5.00" height="5.00" fill="#36497c" stroke="#0c1020" stroke-width="1.0" />
<circle cx="392.60" cy="463.80" r="2.6" fill="#86163a" stroke="#360510" stroke-width="1.0"/>
<circle cx="396.20" cy="463.80" r="2.6" fill="#86163a" stroke="#360510" stroke-width="1.0"/>
<circle cx="399.80" cy="463.80" r="2.6" fill="#86163a" stroke="#360510" stroke-width="1.0"/>
<rect x="409.30" y="461.30" width="5.00" height="5.00" fill="#36497c" stroke="#0c1020" stroke-width="1.0" />
<rect x="413.20" y="461.30" width="5.00" height="5.00" fill="#36497c" stroke="#0c1020" stroke-width="1.0" />
<rect x="417.10" y="461.30" width="5.00" height="5.00" fill="#36497c" stroke="#0c1020" stroke-width="1.0" />
<line x1="357.00" y1="366.50" x2="357.00" y2="375.00" stroke="#333" stroke-width="1.1" />
<line x1="354.80" y1="375.00" x2="359.20" y2="375.00" stroke="#333" stroke-width="1.1" />
<line x1="350.50" y1="369.80" x2="363.00" y2="369.80" stroke="#111" stroke-width="1.3" />
<path d="M357.00,352.50 L359.90,355.40 L357.00,358.30 L354.10,355.40 Z" fill="#c2a47e" stroke="#1a1208" stroke-width="1.2"/>
<path d="M356.80,362.40 L359.70,365.30 L356.80,368.20 L353.90,365.30 Z" fill="#c2a47e" stroke="#1a1208" stroke-width="1.2"/>
<path d="M360.50,374.90 L363.40,377.80 L360.50,380.70 L357.60,377.80 Z" fill="#c2a47e" stroke="#1a1208" stroke-width="1.2"/>
<path d="M353.90,377.40 L356.80,380.30 L353.90,383.20 L351.00,380.30 Z" fill="#c2a47e" stroke="#1a1208" stroke-width="1.2"/>
<line x1="435.00" y1="373.30" x2="435.00" y2="393.70" stroke="#666" stroke-width="1.1" />
<line x1="428.40" y1="383.60" x2="441.90" y2="383.60" stroke="#111" stroke-width="1.3" />
<path d="M435.00,370.40 L437.90,373.30 L435.00,376.20 L432.10,373.30 Z" fill="#c2a47e" stroke="#1a1208" stroke-width="1.2"/>
<path d="M435.00,390.85 L437.90,393.75 L435.00,396.65 L432.10,393.75 Z" fill="#c2a47e" stroke="#1a1208" stroke-width="1.2"/>
<circle cx="453.50" cy="347.60" r="2.8" fill="#86163a" stroke="#360510" stroke-width="1.0"/>
<text x="459.70" y="350.40" font-size="7.7" text-anchor="start" fill="#222"  stroke="#222" stroke-width="0.22">NK cells</text>
<rect x="450.90" y="357.00" width="5.20" height="5.20" fill="#36497c" stroke="#0c1020" stroke-width="1.0" />
<text x="459.70" y="362.40" font-size="7.7" text-anchor="start" fill="#222"  stroke="#222" stroke-width="0.22">T cells</text>
<path d="M453.50,368.70 L456.30,371.50 L453.50,374.30 L450.70,371.50 Z" fill="#c2a47e" stroke="#1a1208" stroke-width="1.2"/>
<text x="459.70" y="374.30" font-size="7.7" text-anchor="start" fill="#222"  stroke="#222" stroke-width="0.22">HSCs</text>
<text x="9.00" y="526.40" font-size="10.8" text-anchor="start" font-weight="bold" fill="#111" >F</text>
<text transform="translate(23.8,578.4) rotate(-90)" font-size="9" text-anchor="middle" fill="#222" textLength="49.3" lengthAdjust="spacingAndGlyphs" stroke="#222" stroke-width="0.22">AnnV<tspan font-size="5.5" dy="-3.2">+</tspan><tspan dy="3.2"> cells /</tspan></text>
<text transform="translate(36.4,578.4) rotate(-90)" font-size="9" text-anchor="middle" fill="#222" textLength="49.3" lengthAdjust="spacingAndGlyphs" stroke="#222" stroke-width="0.22">10000 PBMC</text>
<text x="118.20" y="533.80" font-size="9.8" text-anchor="middle" font-weight="bold" fill="#111" >NK cells</text>
<line x1="61.50" y1="541.30" x2="61.50" y2="617.80" stroke="#111" stroke-width="1.3" />
<line x1="61.50" y1="617.80" x2="158.50" y2="617.80" stroke="#111" stroke-width="1.3" />
<line x1="58.30" y1="543.50" x2="61.50" y2="543.50" stroke="#111" stroke-width="1.1" />
<text x="55.80" y="546.30" font-size="8" text-anchor="end" fill="#2a2a2a"  stroke="#2a2a2a" stroke-width="0.22">100</text>
<line x1="58.30" y1="561.80" x2="61.50" y2="561.80" stroke="#111" stroke-width="1.1" />
<text x="55.80" y="564.60" font-size="8" text-anchor="end" fill="#2a2a2a"  stroke="#2a2a2a" stroke-width="0.22">75</text>
<line x1="58.30" y1="580.50" x2="61.50" y2="580.50" stroke="#111" stroke-width="1.1" />
<text x="55.80" y="583.30" font-size="8" text-anchor="end" fill="#2a2a2a"  stroke="#2a2a2a" stroke-width="0.22">50</text>
<line x1="58.30" y1="599.10" x2="61.50" y2="599.10" stroke="#111" stroke-width="1.1" />
<text x="55.80" y="601.90" font-size="8" text-anchor="end" fill="#2a2a2a"  stroke="#2a2a2a" stroke-width="0.22">25</text>
<line x1="58.30" y1="617.80" x2="61.50" y2="617.80" stroke="#111" stroke-width="1.1" />
<text x="55.80" y="620.60" font-size="8" text-anchor="end" fill="#2a2a2a"  stroke="#2a2a2a" stroke-width="0.22">0</text>
<rect x="78.30" y="593.38" width="9.50" height="24.42" fill="#ebc6b9" stroke="none" stroke-width="1" />
<line x1="83.05" y1="593.38" x2="83.05" y2="586.08" stroke="#222" stroke-width="1.1" />
<line x1="80.55" y1="586.08" x2="85.55" y2="586.08" stroke="#222" stroke-width="1.1" />
<rect x="106.40" y="571.49" width="9.30" height="46.31" fill="#ebc6b9" stroke="none" stroke-width="1" />
<line x1="111.05" y1="571.49" x2="111.05" y2="563.07" stroke="#222" stroke-width="1.1" />
<line x1="108.55" y1="563.07" x2="113.55" y2="563.07" stroke="#222" stroke-width="1.1" />
<rect x="120.60" y="581.98" width="8.90" height="35.82" fill="#d6917f" stroke="none" stroke-width="1" />
<line x1="125.05" y1="581.98" x2="125.05" y2="574.17" stroke="#222" stroke-width="1.1" />
<line x1="122.55" y1="574.17" x2="127.55" y2="574.17" stroke="#222" stroke-width="1.1" />
<rect x="134.30" y="590.85" width="9.10" height="26.95" fill="#c75b52" stroke="none" stroke-width="1" />
<line x1="138.85" y1="590.85" x2="138.85" y2="583.55" stroke="#222" stroke-width="1.1" />
<line x1="136.35" y1="583.55" x2="141.35" y2="583.55" stroke="#222" stroke-width="1.1" />
<rect x="148.10" y="601.72" width="9.90" height="16.08" fill="#bf0429" stroke="none" stroke-width="1" />
<line x1="153.05" y1="601.72" x2="153.05" y2="596.58" stroke="#222" stroke-width="1.1" />
<line x1="150.55" y1="596.58" x2="155.55" y2="596.58" stroke="#222" stroke-width="1.1" />
<line x1="105.80" y1="621.10" x2="158.70" y2="621.10" stroke="#111" stroke-width="1.1" />
<text x="83.10" y="631.00" font-size="7.8" text-anchor="middle" fill="#222"  stroke="#222" stroke-width="0.22">day 3</text>
<text x="132.20" y="631.00" font-size="7.8" text-anchor="middle" fill="#222"  stroke="#222" stroke-width="0.22">day 5</text>
<line x1="110.20" y1="546.30" x2="124.20" y2="546.30" stroke="#111" stroke-width="1.1" />
<text x="117.10" y="546.40" font-size="9.2" text-anchor="middle" font-weight="bold" fill="#111" >***</text>
<line x1="126.30" y1="546.30" x2="151.90" y2="546.30" stroke="#111" stroke-width="1.1" />
<text x="139.00" y="546.40" font-size="9.2" text-anchor="middle" font-weight="bold" fill="#111" >*</text>
<line x1="110.20" y1="553.20" x2="138.30" y2="553.20" stroke="#111" stroke-width="1.1" />
<text x="124.20" y="553.30" font-size="9.2" text-anchor="middle" font-weight="bold" fill="#111" >**</text>
<line x1="110.20" y1="560.20" x2="151.90" y2="560.20" stroke="#111" stroke-width="1.1" />
<text x="130.90" y="560.30" font-size="9.2" text-anchor="middle" font-weight="bold" fill="#111" >**</text>
<text x="258.40" y="534.40" font-size="9.8" text-anchor="middle" font-weight="bold" fill="#111" >T cells</text>
<line x1="202.30" y1="543.30" x2="202.30" y2="617.50" stroke="#111" stroke-width="1.3" />
<line x1="202.30" y1="617.50" x2="314.20" y2="617.50" stroke="#111" stroke-width="1.3" />
<line x1="198.90" y1="553.40" x2="202.30" y2="553.40" stroke="#111" stroke-width="1.1" />
<text x="196.00" y="556.20" font-size="8.2" text-anchor="end" fill="#2a2a2a"  stroke="#2a2a2a" stroke-width="0.22">3000</text>
<line x1="198.90" y1="575.00" x2="202.30" y2="575.00" stroke="#111" stroke-width="1.1" />
<text x="196.00" y="577.80" font-size="8.2" text-anchor="end" fill="#2a2a2a"  stroke="#2a2a2a" stroke-width="0.22">2000</text>
<line x1="198.90" y1="596.60" x2="202.30" y2="596.60" stroke="#111" stroke-width="1.1" />
<text x="196.00" y="599.40" font-size="8.2" text-anchor="end" fill="#2a2a2a"  stroke="#2a2a2a" stroke-width="0.22">1000</text>
<line x1="198.90" y1="617.50" x2="202.30" y2="617.50" stroke="#111" stroke-width="1.1" />
<text x="196.00" y="620.30" font-size="8.2" text-anchor="end" fill="#2a2a2a"  stroke="#2a2a2a" stroke-width="0.22">0</text>
<rect x="218.50" y="574.17" width="10.10" height="43.33" fill="#ebc6b9" stroke="none" stroke-width="1" />
<line x1="223.55" y1="574.17" x2="223.55" y2="563.23" stroke="#222" stroke-width="1.1" />
<line x1="221.05" y1="563.23" x2="226.05" y2="563.23" stroke="#222" stroke-width="1.1" />
<rect x="247.30" y="570.74" width="9.20" height="46.76" fill="#ebc6b9" stroke="none" stroke-width="1" />
<line x1="251.90" y1="570.74" x2="251.90" y2="559.80" stroke="#222" stroke-width="1.1" />
<line x1="249.40" y1="559.80" x2="254.40" y2="559.80" stroke="#222" stroke-width="1.1" />
<rect x="261.40" y="571.17" width="9.60" height="46.33" fill="#d6917f" stroke="none" stroke-width="1" />
<line x1="266.20" y1="571.17" x2="266.20" y2="561.73" stroke="#222" stroke-width="1.1" />
<line x1="263.70" y1="561.73" x2="268.70" y2="561.73" stroke="#222" stroke-width="1.1" />
<rect x="275.30" y="576.10" width="9.50" height="41.40" fill="#c75b52" stroke="none" stroke-width="1" />
<line x1="280.05" y1="576.10" x2="280.05" y2="566.88" stroke="#222" stroke-width="1.1" />
<line x1="277.55" y1="566.88" x2="282.55" y2="566.88" stroke="#222" stroke-width="1.1" />
<rect x="289.10" y="607.20" width="9.80" height="10.30" fill="#bf0429" stroke="none" stroke-width="1" />
<line x1="294.00" y1="607.20" x2="294.00" y2="604.42" stroke="#222" stroke-width="1.1" />
<line x1="291.50" y1="604.42" x2="296.50" y2="604.42" stroke="#222" stroke-width="1.1" />
<line x1="246.40" y1="620.60" x2="298.90" y2="620.60" stroke="#111" stroke-width="1.1" />
<text x="223.40" y="631.00" font-size="7.8" text-anchor="middle" fill="#222"  stroke="#222" stroke-width="0.22">day 3</text>
<text x="272.40" y="631.00" font-size="7.8" text-anchor="middle" fill="#222"  stroke="#222" stroke-width="0.22">day 5</text>
<line x1="249.30" y1="546.20" x2="293.50" y2="546.20" stroke="#111" stroke-width="1.1" />
<text x="271.50" y="546.30" font-size="9.2" text-anchor="middle" font-weight="bold" fill="#111" >*</text>
<line x1="265.20" y1="552.50" x2="293.50" y2="552.50" stroke="#111" stroke-width="1.1" />
<text x="279.00" y="552.60" font-size="9.2" text-anchor="middle" font-weight="bold" fill="#111" >**</text>
<line x1="279.60" y1="559.70" x2="293.50" y2="559.70" stroke="#111" stroke-width="1.1" />
<text x="286.80" y="559.80" font-size="9.2" text-anchor="middle" font-weight="bold" fill="#111" >*</text>
<text x="395.60" y="534.80" font-size="9.8" text-anchor="middle" font-weight="bold" fill="#111" >HSCs</text>
<line x1="338.90" y1="543.30" x2="338.90" y2="617.40" stroke="#111" stroke-width="1.3" />
<line x1="338.90" y1="617.40" x2="451.30" y2="617.40" stroke="#111" stroke-width="1.3" />
<line x1="335.70" y1="558.30" x2="338.90" y2="558.30" stroke="#111" stroke-width="1.1" />
<text x="331.70" y="561.10" font-size="8" text-anchor="end" fill="#2a2a2a"  stroke="#2a2a2a" stroke-width="0.22">200</text>
<line x1="335.70" y1="587.80" x2="338.90" y2="587.80" stroke="#111" stroke-width="1.1" />
<text x="331.70" y="590.60" font-size="8" text-anchor="end" fill="#2a2a2a"  stroke="#2a2a2a" stroke-width="0.22">100</text>
<line x1="335.70" y1="617.40" x2="338.90" y2="617.40" stroke="#111" stroke-width="1.1" />
<text x="331.70" y="620.20" font-size="8" text-anchor="end" fill="#2a2a2a"  stroke="#2a2a2a" stroke-width="0.22">0</text>
<rect x="355.40" y="562.50" width="9.20" height="54.90" fill="#ebc6b9" stroke="none" stroke-width="1" />
<line x1="360.00" y1="562.50" x2="360.00" y2="553.28" stroke="#222" stroke-width="1.1" />
<line x1="357.50" y1="553.28" x2="362.50" y2="553.28" stroke="#222" stroke-width="1.1" />
<rect x="383.60" y="573.22" width="8.70" height="44.18" fill="#ebc6b9" stroke="none" stroke-width="1" />
<line x1="387.95" y1="573.22" x2="387.95" y2="564.51" stroke="#222" stroke-width="1.1" />
<line x1="385.45" y1="564.51" x2="390.45" y2="564.51" stroke="#222" stroke-width="1.1" />
<rect x="397.50" y="569.12" width="9.20" height="48.28" fill="#d6917f" stroke="none" stroke-width="1" />
<line x1="402.10" y1="569.12" x2="402.10" y2="560.19" stroke="#222" stroke-width="1.1" />
<line x1="399.60" y1="560.19" x2="404.60" y2="560.19" stroke="#222" stroke-width="1.1" />
<rect x="411.60" y="573.52" width="9.00" height="43.88" fill="#c75b52" stroke="none" stroke-width="1" />
<line x1="416.10" y1="573.52" x2="416.10" y2="561.02" stroke="#222" stroke-width="1.1" />
<line x1="413.60" y1="561.02" x2="418.60" y2="561.02" stroke="#222" stroke-width="1.1" />
<rect x="424.90" y="606.67" width="9.80" height="10.73" fill="#bf0429" stroke="none" stroke-width="1" />
<line x1="429.80" y1="606.67" x2="429.80" y2="604.40" stroke="#222" stroke-width="1.1" />
<line x1="427.30" y1="604.40" x2="432.30" y2="604.40" stroke="#222" stroke-width="1.1" />
<line x1="383.00" y1="620.60" x2="435.00" y2="620.60" stroke="#111" stroke-width="1.1" />
<text x="360.00" y="631.00" font-size="7.8" text-anchor="middle" fill="#222"  stroke="#222" stroke-width="0.22">day 3</text>
<text x="409.00" y="631.00" font-size="7.8" text-anchor="middle" fill="#222"  stroke="#222" stroke-width="0.22">day 5</text>
<line x1="386.50" y1="546.20" x2="429.20" y2="546.20" stroke="#111" stroke-width="1.1" />
<text x="407.30" y="546.30" font-size="9.2" text-anchor="middle" font-weight="bold" fill="#111" >**</text>
<line x1="401.00" y1="553.40" x2="429.20" y2="553.40" stroke="#111" stroke-width="1.1" />
<text x="415.40" y="553.50" font-size="9.2" text-anchor="middle" font-weight="bold" fill="#111" >**</text>
<line x1="416.80" y1="560.30" x2="429.20" y2="560.30" stroke="#111" stroke-width="1.1" />
<text x="422.60" y="560.40" font-size="9.2" text-anchor="middle" font-weight="bold" fill="#111" >*</text>
<rect x="454.60" y="546.80" width="10.70" height="5.00" fill="#ebc6b9" stroke="none" stroke-width="1" />
<text x="490.70" y="547.00" font-size="7.8" text-anchor="middle" fill="#222"  stroke="#222" stroke-width="0.22">No</text>
<text x="490.70" y="556.70" font-size="7.8" text-anchor="middle" fill="#222"  stroke="#222" stroke-width="0.22">Mafosfamide</text>
<rect x="454.60" y="567.80" width="10.70" height="5.00" fill="#d6917f" stroke="none" stroke-width="1" />
<text x="490.70" y="568.00" font-size="7.8" text-anchor="middle" fill="#222"  stroke="#222" stroke-width="0.22">2.5 µg/mL</text>
<text x="490.70" y="577.70" font-size="7.8" text-anchor="middle" fill="#222"  stroke="#222" stroke-width="0.22">Mafosfamide</text>
<rect x="454.60" y="589.00" width="10.70" height="5.00" fill="#c75b52" stroke="none" stroke-width="1" />
<text x="490.70" y="589.20" font-size="7.8" text-anchor="middle" fill="#222"  stroke="#222" stroke-width="0.22">7.5 µg/mL</text>
<text x="490.70" y="598.90" font-size="7.8" text-anchor="middle" fill="#222"  stroke="#222" stroke-width="0.22">Mafosfamide</text>
<rect x="454.60" y="609.60" width="10.70" height="5.00" fill="#bf0429" stroke="none" stroke-width="1" />
<text x="485.80" y="609.80" font-size="7.8" text-anchor="middle" fill="#222"  stroke="#222" stroke-width="0.22">20 Gy</text>
<text x="485.80" y="619.50" font-size="7.8" text-anchor="middle" fill="#222"  stroke="#222" stroke-width="0.22">Irradiation</text>
<rect x="0" y="0" width="1.3" height="640" fill="#000"/>
<rect x="0" y="0" width="520" height="1.3" fill="#000"/>
<rect x="518.6" y="0" width="1.4" height="640" fill="#000"/>
<rect x="0" y="638.4" width="520" height="1.6" fill="#000"/>
</svg>
</body></html>
